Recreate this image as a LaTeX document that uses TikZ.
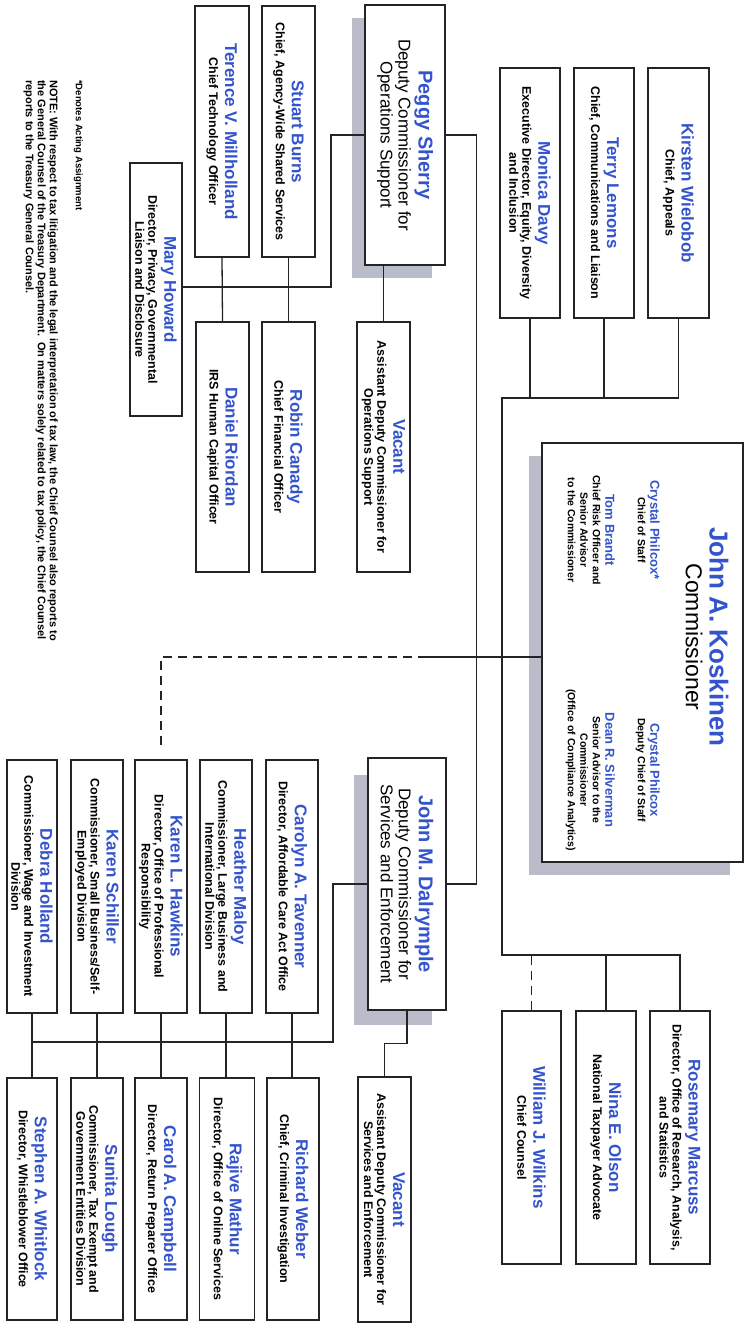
\documentclass[tikz,border=0pt]{standalone}
\usepackage{fontspec}
\setmainfont{Liberation Sans}
\usetikzlibrary{calc}

\newcommand{\nm}[1]{{\color{orgblue}\fontsize{17}{18}\selectfont #1}}
\newcommand{\sn}[1]{{\color{orgblue}\fontsize{13}{15}\selectfont #1}}
\newcommand{\dn}[1]{{\color{orgblue}\bfseries\fontsize{20}{22}\selectfont #1}}

\begin{document}
\begin{tikzpicture}[x=1pt,y=-1pt,
	unit/.style={draw=boxline,line width=1.5pt,fill=white,rotate=-90,align=center,
		inner sep=0.5pt,font=\bfseries\fontsize{12.5}{13}\selectfont,
		minimum width=250pt,minimum height=53pt},
	deputy/.style={unit,font=\fontsize{17}{18}\selectfont},
	staff/.style={rotate=-90,align=center,inner sep=0pt,anchor=north,
		font=\bfseries\fontsize{10.5}{12.5}\selectfont},
	link/.style={draw=boxline,line width=1.3pt},
	dashlink/.style={link,dash pattern=on 9pt off 6pt},
	note/.style={rotate=-90,align=left,inner sep=0pt,anchor=north west,
		font=\bfseries\fontsize{11}{12}\selectfont}]

\definecolor{orgblue}{RGB}{52,84,205}
\definecolor{boxline}{RGB}{35,35,40}
\definecolor{shadowgray}{RGB}{186,189,201}

\useasboundingbox (0,0) rectangle (747,1324);

% shadows
\fill[shadowgray] (352,18) rectangle (432,278);
\fill[shadowgray] (529,456) rectangle (730,875);
\fill[shadowgray] (354,775) rectangle (432,1025);

% commissioner
\node[unit,minimum width=419pt,minimum height=201pt] (commish) at (642.5,652.5) {};
\node[rotate=-90,text=orgblue,font=\bfseries\fontsize{26}{28}\selectfont] (kosk) at (719,637) {John A. Koskinen};
\node[rotate=-90,font=\fontsize{23}{25}\selectfont] (ksktitle) at (694,637) {Commissioner};
\node[staff] (cos) at (660,530) {\sn{Crystal Philcox*}\\Chief of Staff};
\node[staff] (dcos) at (660,770) {\sn{Crystal Philcox}\\Deputy Chief of Staff};
\node[staff] (brandt) at (615,530) {\sn{Tom Brandt}\\Chief Risk Officer and\\Senior Advisor\\to the Commissioner};
\node[staff] (silverman) at (615,770) {\sn{Dean R. Silverman}\\Senior Advisor to the\\Commissioner\\(Office of Compliance Analytics)};

% staff above
\node[unit,minimum height=61pt] (kirsten) at (678.5,193) {\nm{Kirsten Wielobob}\\[3pt]Chief, Appeals};
\node[unit,minimum height=60pt] (lemons) at (604,193) {\nm{Terry Lemons}\\[3pt]Chief, Communications and Liaison};
\node[unit,minimum height=60pt] (davy) at (530,193) {\nm{Monica Davy}\\[3pt]Executive Director, Equity, Diversity\\and Inclusion};

% staff below
\node[unit,minimum width=253pt,minimum height=60pt] (marcuss) at (680,1137.5) {\nm{Rosemary Marcuss}\\[3pt]Director, Office of Research, Analysis,\\and Statistics};
\node[unit,minimum width=253pt,minimum height=60pt] (olson) at (606,1137.5) {\nm{Nina E. Olson}\\[3pt]National Taxpayer Advocate};
\node[unit,minimum width=253pt,minimum height=59pt] (wilkins) at (531.5,1137.5) {\nm{William J. Wilkins}\\[3pt]Chief Counsel};

% operations support
\node[deputy,minimum width=260pt,minimum height=80pt] (peggy) at (405,135) {\dn{Peggy Sherry}\\[2pt]Deputy Commissioner for\\Operations Support};
\node[unit,minimum width=251pt] (stuart) at (288.5,131.5) {\nm{Stuart Burns}\\[3pt]Chief, Agency-Wide Shared Services};
\node[unit,minimum width=251pt,minimum height=54pt] (terence) at (222,131.5) {\nm{Terence V. Millholland}\\[3pt]Chief Technology Officer};
\node[unit,minimum width=253pt,minimum height=52pt] (mary) at (156,289.5) {\nm{Mary Howard}\\[3pt]Director, Privacy, Governmental\\Liaison and Disclosure};
\node[unit] (vacops) at (383.5,447) {\nm{Vacant}\\[3pt]Assistant Deputy Commissioner for\\Operations Support};
\node[unit] (robin) at (288.5,447) {\nm{Robin Canady}\\[3pt]Chief Financial Officer};
\node[unit] (daniel) at (222.5,447) {\nm{Daniel Riordan}\\[3pt]IRS Human Capital Officer};

% services and enforcement
\node[deputy,minimum width=252pt,minimum height=78pt] (dalrymple) at (407,884) {\dn{John M. Dalrymple}\\[2pt]Deputy Commissioner for\\Services and Enforcement};
\node[unit,minimum width=245pt] (vacse) at (384.5,1199.5) {\nm{Vacant}\\[3pt]Assistant Deputy Commissioner for\\Services and Enforcement};

\node[unit,minimum width=253pt,minimum height=52pt] (tavenner) at (292,886.5) {\nm{Carolyn A. Tavenner}\\[3pt]Director, Affordable Care Act Office};
\node[unit,minimum width=253pt,minimum height=52pt] (maloy) at (226,886.5) {\nm{Heather Maloy}\\[3pt]Commissioner, Large Business and\\International Division};
\node[unit,minimum width=253pt,minimum height=52pt] (hawkins) at (161,886.5) {\nm{Karen L. Hawkins}\\[3pt]Director, Office of Professional\\Responsibility};
\node[unit,minimum width=253pt,minimum height=52pt] (schiller) at (97,886.5) {\nm{Karen Schiller}\\[3pt]Commissioner, Small Business/Self-\\Employed Division};
\node[unit,minimum width=253pt,minimum height=50pt] (holland) at (32,886.5) {\nm{Debra Holland}\\[3pt]Commissioner, Wage and Investment\\Division};

\node[unit,minimum width=242pt,minimum height=52pt] (weber) at (293,1199) {\nm{Richard Weber}\\[3pt]Chief, Criminal Investigation};
\node[unit,minimum width=242pt,minimum height=55pt] (mathur) at (227,1199) {\nm{Rajive Mathur}\\[3pt]Director, Office of Online Services};
\node[unit,minimum width=242pt,minimum height=52pt] (campbell) at (161,1199) {\nm{Carol A. Campbell}\\[3pt]Director, Return Preparer Office};
\node[unit,minimum width=242pt,minimum height=52pt] (lough) at (97,1199) {\nm{Sunita Lough}\\[3pt]Commissioner, Tax Exempt and\\Government Entities Division};
\node[unit,minimum width=242pt,minimum height=50pt] (whitlock) at (32,1199) {\nm{Stephen A. Whitlock}\\[3pt]Director, Whistleblower Office};

% footnotes
\node[note,font=\bfseries\fontsize{9.5}{12}\selectfont] (acting) at (83,80) {*Denotes Acting Assignment};
\node[note] (disclaimer) at (58,80) {NOTE: With respect to tax litigation and the legal interpretation of tax law, the Chief Counsel also reports to\\the General Counsel of the Treasury Department.\ \ On matters solely related to tax policy, the Chief Counsel\\reports to the Treasury General Counsel.};

% connectors
\coordinate (topjoin) at (502,398);
\coordinate (botjoin) at (502,955);
\draw[link] (kirsten.east) |- (topjoin) -- (botjoin) -| (marcuss.west);
\draw[link] (lemons.east) -- (lemons.east |- topjoin);
\draw[link] (davy.east) -- (davy.east |- topjoin);
\draw[link] (olson.west) -- (olson.west |- botjoin);
\draw[dashlink] (wilkins.west) -- (wilkins.west |- botjoin);

\coordinate (dashbreak) at (427,657);
\draw[link] (commish.south |- dashbreak) -- (dashbreak);
\draw[dashlink,shorten >=10pt] (dashbreak) -| (hawkins.west);

\draw[link] (peggy.north) -- ++(31,0) |- (dalrymple.north);

\coordinate (opsjoin) at (331,287);
\draw[link] (peggy.south) -| (opsjoin) -- (mary.north |- opsjoin);
\draw[link] (stuart.east) -- (robin.west);
\draw[link] (terence.east) -- (daniel.west);
\draw[link] (vacops.west) -- (vacops.west |- peggy.east);

\coordinate (sejoin) at (333,1042);
\draw[link] (dalrymple.south) -| (sejoin) -- (holland.east |- sejoin);
\foreach \up/\down in {holland/whitlock,schiller/lough,hawkins/campbell,maloy/mathur,tavenner/weber}
	\draw[link] (\up.east) -- (\up.east |- \down.west);
\draw[link] (dalrymple.east) -- ++(0,33) -| (vacse.west);

\end{tikzpicture}
\end{document}
